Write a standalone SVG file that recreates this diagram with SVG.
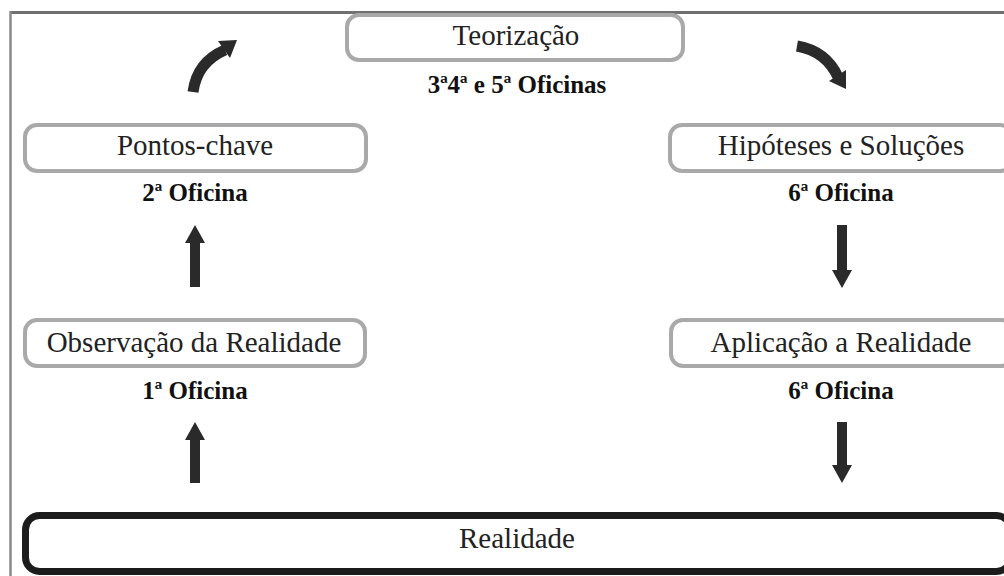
<svg xmlns="http://www.w3.org/2000/svg" width="1004" height="576" viewBox="0 0 1004 576">
<style>
.box{fill:#fff;stroke:#a9a9a9;stroke-width:4}
.lbl{font-family:"Liberation Serif","Times New Roman",serif;font-size:29px;fill:#222;text-anchor:middle}
.sub{font-family:"Liberation Serif","Times New Roman",serif;font-size:25px;font-weight:bold;fill:#111;text-anchor:middle}
.arr{fill:#2a2a2a}
.shaft{fill:none;stroke:#2a2a2a;stroke-width:11}
</style>
<rect width="1004" height="576" fill="#fff"/>
<g id="frame">
<line x1="10" y1="12.5" x2="1004" y2="12.5" stroke="#707070" stroke-width="3"/>
<line x1="10.5" y1="11" x2="10.5" y2="576" stroke="#8a8a8a" stroke-width="2.5"/>
</g>
<g id="teorizacao">
<rect class="box" x="347" y="15" width="336" height="45" rx="12"/>
<text class="lbl" x="516" y="45">Teorização</text>
<text class="sub" x="517" y="93">3ª4ª e 5ª Oficinas</text>
</g>
<g id="pontos-chave">
<rect class="box" x="25" y="125" width="341" height="46" rx="12"/>
<text class="lbl" x="195" y="155">Pontos-chave</text>
<text class="sub" x="195" y="201">2ª Oficina</text>
</g>
<g id="observacao">
<rect class="box" x="25" y="320" width="340" height="46" rx="12"/>
<text class="lbl" x="194" y="352">Observação da Realidade</text>
<text class="sub" x="195" y="399">1ª Oficina</text>
</g>
<g id="hipoteses">
<rect class="box" x="670" y="125" width="342" height="46" rx="12"/>
<text class="lbl" x="841" y="155">Hipóteses e Soluções</text>
<text class="sub" x="841" y="201">6ª Oficina</text>
</g>
<g id="aplicacao">
<rect class="box" x="671" y="320" width="342" height="46" rx="12"/>
<text class="lbl" x="841" y="352">Aplicação a Realidade</text>
<text class="sub" x="841" y="399">6ª Oficina</text>
</g>
<g id="realidade">
<rect x="25.5" y="515.5" width="985" height="56" rx="14" fill="#fff" stroke="#1c1c1c" stroke-width="7"/>
<text class="lbl" x="517" y="548">Realidade</text>
</g>
<g id="connectors">
<polygon class="arr" points="195,225 185,243 190,243 190,287 200,287 200,243 205,243"/>
<polygon class="arr" points="195,422 185,440 190,440 190,483 200,483 200,440 205,440"/>
<polygon class="arr" points="842,288 832,270 837,270 837,225 847,225 847,270 852,270"/>
<polygon class="arr" points="842,483 832,465 837,465 837,422 847,422 847,465 852,465"/>
<path class="shaft" d="M193 92 Q197 62 225 50"/>
<polygon class="arr" points="237,40 230,58 218,41"/>
<path class="shaft" d="M797 46 Q826 51 838 77"/>
<polygon class="arr" points="846,89 846,70 829,81"/>
</g>
</svg>
